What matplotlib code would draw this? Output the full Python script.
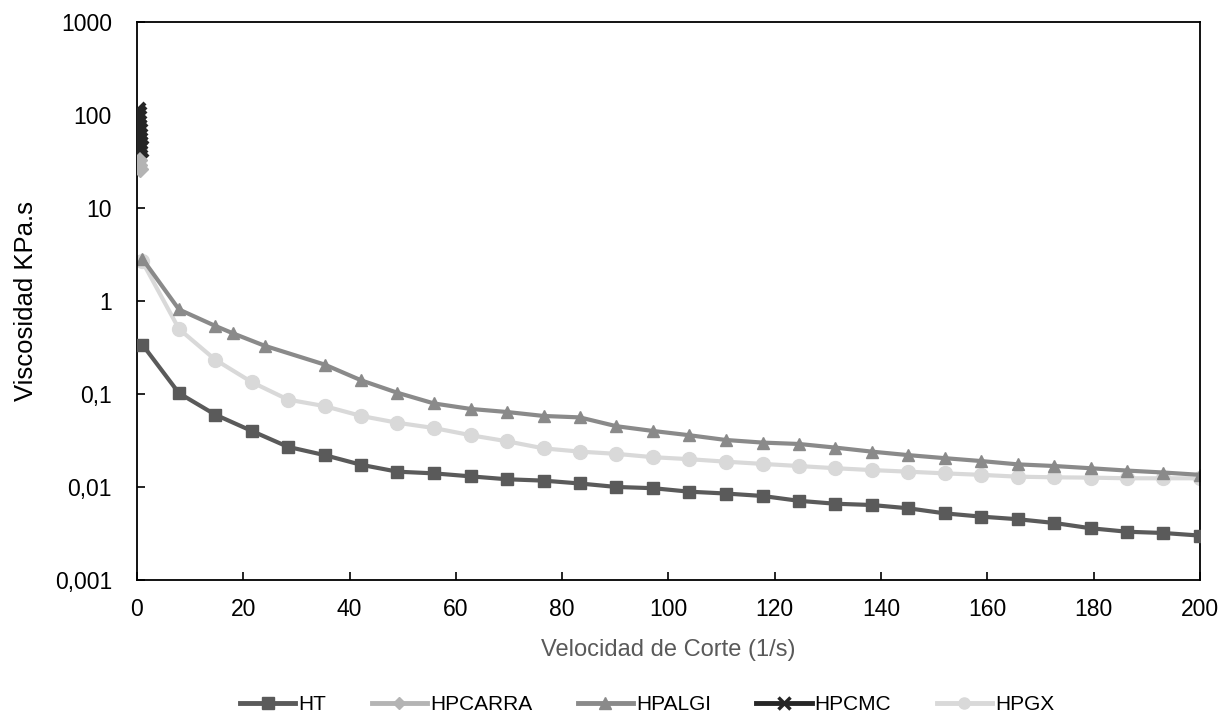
import numpy as np
import matplotlib
matplotlib.use("Agg")
import matplotlib.pyplot as plt
from matplotlib.lines import Line2D

plt.rcParams['font.family'] = ['Liberation Sans', 'DejaVu Sans']

# Data
x_grid = [1, 7.9, 14.7, 21.6, 28.4, 35.3, 42.2, 49, 55.9, 62.8, 69.6, 76.5,
          83.3, 90.2, 97.1, 103.9, 110.8, 117.7, 124.5, 131.4, 138.2, 145.1,
          152, 158.8, 165.7, 172.6, 179.4, 186.3, 193.1, 200]

ht = [0.34, 0.102, 0.060, 0.040, 0.027, 0.022, 0.0173, 0.0146, 0.0140,
      0.0130, 0.0121, 0.0117, 0.0109, 0.0100, 0.0097, 0.0089, 0.0085,
      0.0080, 0.0071, 0.0066, 0.0064, 0.0059, 0.0052, 0.0048, 0.0045,
      0.0041, 0.0036, 0.0033, 0.0032, 0.0030]

hpgx = [2.66, 0.50, 0.234, 0.134, 0.087, 0.074, 0.058, 0.049, 0.043,
        0.036, 0.031, 0.026, 0.024, 0.0227, 0.0209, 0.0199, 0.0187,
        0.0177, 0.0168, 0.0159, 0.0152, 0.0146, 0.0140, 0.0135, 0.0129,
        0.0127, 0.0126, 0.0124, 0.0124, 0.0124]

x_algi = [1, 7.9, 14.7, 18, 24, 35.3, 42.2, 49, 55.9, 62.8, 69.6, 76.5,
          83.3, 90.2, 97.1, 103.9, 110.8, 117.7, 124.5, 131.4, 138.2, 145.1,
          152, 158.8, 165.7, 172.6, 179.4, 186.3, 193.1, 200]
hpalgi = [2.85, 0.81, 0.54, 0.45, 0.33, 0.207, 0.140, 0.103, 0.079,
          0.069, 0.064, 0.058, 0.056, 0.045, 0.040, 0.036, 0.032, 0.030,
          0.029, 0.0265, 0.024, 0.022, 0.0204, 0.019, 0.0175, 0.0168,
          0.0159, 0.015, 0.0143, 0.0135]

x_carra = [0.05, 0.1, 0.15, 0.2, 0.25, 0.3, 0.35, 0.4, 0.45, 0.5]
hpcarra = [95, 80, 68, 58, 50, 44, 38, 33, 29, 26]

x_cmc = [0.05, 0.1, 0.15, 0.2, 0.25, 0.3, 0.35, 0.4, 0.45, 0.5]
hpcmc = [110, 100, 90, 80, 72, 65, 58, 52, 47, 43]

yticks = [0.001, 0.01, 0.1, 1, 10, 100, 1000]
ytick_labels = ['0,001', '0,01', '0,1', '1', '10', '100', '1000']
xticks = [0, 20, 40, 60, 80, 100, 120, 140, 160, 180, 200]

c_ht = '#5a5a5a'
c_carra = '#b4b4b4'
c_algi = '#8a8a8a'
c_cmc = '#262626'
c_gx = '#d9d9d9'

fig = plt.figure(figsize=(12.21, 7.16), dpi=100)
ax = fig.add_axes([0.1122, 0.19, 0.8706, 0.7793])

ax.plot(x_carra, hpcarra, color=c_carra, lw=2.8, marker='D', ms=8,
        label='HPCARRA', zorder=3)
ax.plot(x_cmc, hpcmc, color=c_cmc, lw=2.8, marker='x', ms=11, mew=3,
        label='HPCMC', zorder=4)
ax.plot(x_grid, hpgx, color=c_gx, lw=3, marker='o', ms=10,
        label='HPGX', zorder=2)
ax.plot(x_algi, hpalgi, color=c_algi, lw=3, marker='^', ms=9,
        label='HPALGI', zorder=2.5)
ax.plot(x_grid, ht, color=c_ht, lw=3, marker='s', ms=9,
        label='HT', zorder=2.6)

ax.set_yscale('log')
ax.set_ylim(0.001, 1000)
ax.set_xlim(0, 200)
ax.set_yticks(yticks)
ax.set_yticklabels(ytick_labels)
ax.yaxis.set_minor_locator(matplotlib.ticker.NullLocator())
ax.set_xticks(xticks)
ax.tick_params(direction='in', length=6, width=1.2, labelsize=16.5,
               colors='black')
ax.tick_params(axis='x', pad=13)
ax.tick_params(axis='y', pad=18)
for s in ax.spines.values():
    s.set_linewidth(1.3)
    s.set_color('black')

ax.set_xlabel('Velocidad de Corte (1/s)', fontsize=17, color='#595959',
              labelpad=13)
ax.set_ylabel('Viscosidad KPa.s', fontsize=18.5, color='black', labelpad=12)

handles = [
    Line2D([], [], color=c_ht, lw=3.5, marker='s', ms=8),
    Line2D([], [], color=c_carra, lw=3.5, marker='D', ms=6),
    Line2D([], [], color=c_algi, lw=3.5, marker='^', ms=8),
    Line2D([], [], color=c_cmc, lw=3.5, marker='x', ms=8, mew=2.5),
    Line2D([], [], color=c_gx, lw=3.5, marker='o', ms=8),
]
labels = ['HT', 'HPCARRA', 'HPALGI', 'HPCMC', 'HPGX']
fig.legend(handles, labels, loc='center', bbox_to_anchor=(0.53, 0.016),
           ncol=5, frameon=False, fontsize=15, handlelength=2.65,
           handletextpad=0.15, columnspacing=2.18)

fig.savefig('out.png', dpi=100)
